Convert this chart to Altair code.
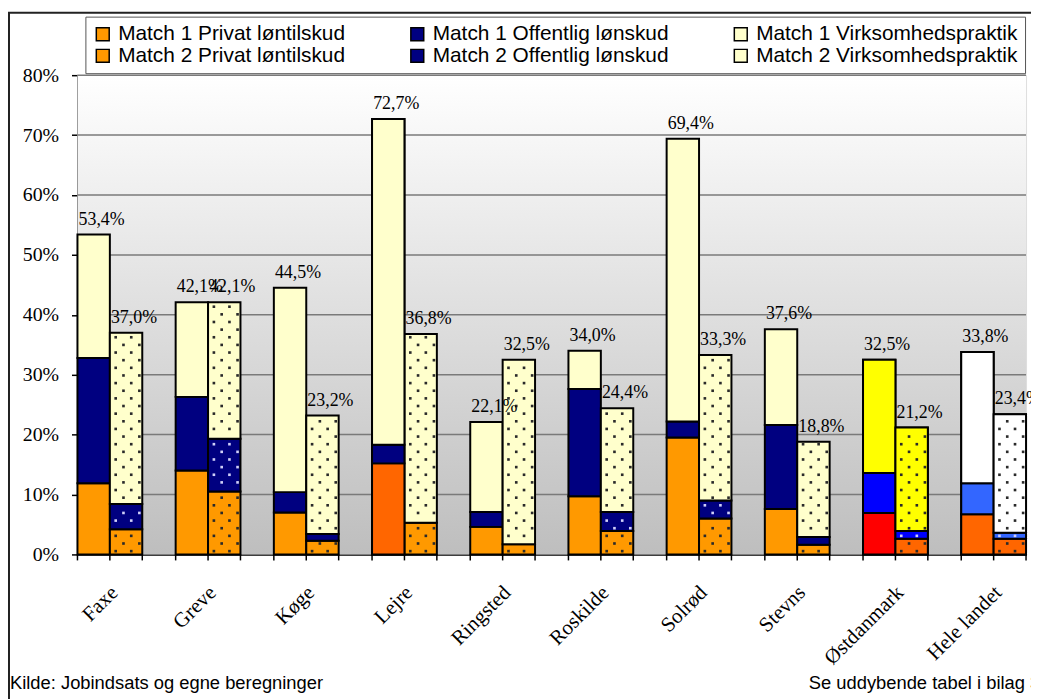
import altair as alt
import pandas as pd

categories = ["Faxe", "Greve", "Køge", "Lejre", "Ringsted", "Roskilde",
              "Solrød", "Stevns", "Østdanmark", "Hele landet"]
m1_total = [53.4, 42.1, 44.5, 72.7, 22.1, 34.0, 69.4, 37.6, 32.5, 33.8]
m1_priv = [11.9, 14.0, 7.0, 15.2, 4.6, 9.7, 19.5, 7.6, 6.9, 6.7]
m1_off = [20.9, 12.3, 3.4, 3.1, 2.5, 17.9, 2.7, 14.0, 6.7, 5.2]
m2_total = [37.0, 42.1, 23.2, 36.8, 32.5, 24.4, 33.3, 18.8, 21.2, 23.4]
m2_priv = [4.2, 10.5, 2.3, 5.3, 1.7, 3.9, 6.0, 1.6, 2.6, 2.6]
m2_off = [4.2, 8.8, 1.1, 0.0, 0.0, 3.2, 3.0, 1.3, 1.3, 1.0]
y_ticks = [0, 10, 20, 30, 40, 50, 60, 70, 80]

segment_names = ["Privat løntilskud", "Offentlig lønskud", "Virksomhedspraktik"]
matches = ["Match 1", "Match 2"]
base_colors = ["#FF9900", "#000080", "#FFFFCC"]
# legend is filled column by column (2 rows), so interleave the matches
legend_domain = [f"{m} {s}" for s in segment_names for m in matches]
legend_range = [c for c in base_colors for _ in matches]
special_colors = {
    ("Lejre", "Match 1"): ["#FF6600", "#000080", "#FFFFCC"],
    ("Østdanmark", "Match 1"): ["#FF0000", "#0000FF", "#FFFF00"],
    ("Østdanmark", "Match 2"): ["#FF6600", "#0000FF", "#FFFF00"],
    ("Hele landet", "Match 1"): ["#FF6600", "#3366FF", "#FFFFFF"],
    ("Hele landet", "Match 2"): ["#FF6600", "#3366FF", "#FFFFFF"],
}
dark_fills = {"#000080", "#0000FF", "#3366FF"}


def fmt(v):
    return f"{v:.1f}%".replace(".", ",")


rows, labels, dots = [], [], []
for i, c in enumerate(categories):
    for m, tot, pr, of in [("Match 1", m1_total[i], m1_priv[i], m1_off[i]),
                           ("Match 2", m2_total[i], m2_priv[i], m2_off[i])]:
        vals = [pr, of, round(tot - pr - of, 1)]
        cols = special_colors.get((c, m), base_colors)
        y0 = 0.0
        for k, v in enumerate(vals):
            y1 = y0 + v
            if v > 0:
                rows.append(dict(cat=c, match=m, series=f"{m} {segment_names[k]}",
                                 y0=y0, y1=y1, fill=cols[k],
                                 special=(c, m) in special_colors))
                if m == "Match 2":
                    dc = "#D0D0F8" if cols[k] in dark_fills else "#2A2A2A"
                    for n in range(80):
                        yy = 0.55 + n * 1.275
                        if y0 + 0.4 < yy < y1 - 0.4:
                            for col in ((0, 2) if n % 2 == 0 else (1, 3)):
                                dots.append(dict(cat=c, col=col, y=yy, dc=dc))
            y0 = y1
        labels.append(dict(cat=c, match=m, total=tot, label=fmt(tot)))

bars_df = pd.DataFrame(rows)
labels_df = pd.DataFrame(labels)
dots_df = pd.DataFrame(dots)
cat_df = pd.DataFrame({"cat": categories})
grid_df = pd.DataFrame({"v": y_ticks[1:]})

W, H = 956, 483
serif = "Liberation Serif"
sans = "Liberation Sans"

xscale = alt.Scale(domain=categories, paddingInner=0.34, paddingOuter=0)
xaxis = alt.Axis(title=None, ticks=False, domainColor="black", domainWidth=1.5,
                 labelAngle=-45, labelAlign="right", labelBaseline="middle",
                 labelFont=serif, labelFontSize=21, labelColor="black",
                 labelPadding=35, labelOffset=5)
yscale = alt.Scale(domain=[0, 80], nice=False, zero=True)
yaxis = alt.Axis(title=None, values=y_ticks, labelExpr="datum.value + '%'",
                 grid=False, tickSize=6, tickColor="black", tickWidth=1.5,
                 domainColor="black", domainWidth=1.5, labelFont=serif,
                 labelFontSize=20, labelColor="black", labelPadding=13)
offscale = alt.Scale(domain=matches, paddingInner=0, paddingOuter=0)


def X(bp=None):
    if bp is None:
        return alt.X("cat:N", scale=xscale, axis=xaxis)
    return alt.X("cat:N", scale=xscale, axis=xaxis, bandPosition=bp)


background = alt.Chart(pd.DataFrame({"a": [0]})).mark_rect(
    color=alt.Gradient(gradient="linear", x1=0, y1=0, x2=0, y2=1,
                       stops=[alt.GradientStop(color="#FFFFFF", offset=0),
                              alt.GradientStop(color="#BEBEBE", offset=1)])
).encode(x=alt.value(0), x2=alt.value(W), y=alt.value(0), y2=alt.value(H))

grid = alt.Chart(grid_df).mark_rule(color="#7A7A7A", strokeWidth=1.5).encode(
    x=alt.value(0), x2=alt.value(W),
    y=alt.Y("v:Q", scale=yscale, axis=yaxis))

bars = alt.Chart(bars_df).mark_bar(stroke="black", strokeWidth=2).encode(
    x=X(),
    xOffset=alt.XOffset("match:N", scale=offscale),
    y=alt.Y("y0:Q", scale=yscale, axis=yaxis),
    y2="y1:Q",
    color=alt.Color("series:N",
                    scale=alt.Scale(domain=legend_domain, range=legend_range),
                    legend=alt.Legend(
                        title=None, orient="none", legendX=8, legendY=-59,
                        columns=3, columnPadding=62, rowPadding=0,
                        symbolType="square", symbolSize=169,
                        symbolStrokeColor="black", symbolStrokeWidth=1.5,
                        labelFont=sans, labelFontSize=21, labelColor="black",
                        labelOffset=5, labelLimit=400,
                        strokeColor="#555555", fillColor="white", padding=7)),
)

bars_special = alt.Chart(bars_df).transform_filter(
    alt.datum.special == True
).mark_bar(stroke="black", strokeWidth=2).encode(
    x=X(),
    xOffset=alt.XOffset("match:N", scale=offscale),
    y=alt.Y("y0:Q", scale=yscale, axis=yaxis),
    y2="y1:Q",
    fill=alt.Fill("fill:N", scale=None),
)

dot_positions = [0.59, 0.71, 0.83, 0.955]
dot_layers = []
for j, bp in enumerate(dot_positions):
    dot_layers.append(
        alt.Chart(dots_df).transform_filter(alt.datum.col == j)
        .mark_square(size=7, filled=True, opacity=1, strokeWidth=0)
        .encode(x=X(bp), y=alt.Y("y:Q", scale=yscale, axis=yaxis),
                fill=alt.Fill("dc:N", scale=None))
    )

tick_layers = []
for bp in (0, 0.5, 1):
    tick_layers.append(
        alt.Chart(cat_df).mark_rule(color="black", strokeWidth=1.5).encode(
            x=X(bp), y=alt.YDatum(0, scale=yscale, axis=yaxis),
            y2=alt.Y2Datum(-1))
    )

value_labels = alt.Chart(labels_df).mark_text(
    font=serif, fontSize=18, color="black", align="center",
    baseline="alphabetic", dx=8, dy=-10
).encode(
    x=X(),
    xOffset=alt.XOffset("match:N", scale=offscale),
    y=alt.Y("total:Q", scale=yscale, axis=yaxis),
    text="label:N",
)

frame = alt.Chart(pd.DataFrame({"a": [0]})).mark_rect(
    fillOpacity=0, stroke="#222222", strokeWidth=2
).encode(x=alt.value(-69), x2=alt.value(W + 300),
         y=alt.value(-63), y2=alt.value(H + 400))

footer_left = alt.Chart(pd.DataFrame({"t": ["Kilde: Jobindsats og egne beregninger"]})).mark_text(
    font=sans, fontSize=18.5, color="black", align="left", baseline="alphabetic"
).encode(x=alt.value(-68), y=alt.value(H + 136), text="t:N")

footer_right = alt.Chart(pd.DataFrame({"t": ["Se uddybende tabel i bilag 3"]})).mark_text(
    font=sans, fontSize=18.5, color="black", align="left", baseline="alphabetic"
).encode(x=alt.value(737), y=alt.value(H + 136), text="t:N")

chart = alt.layer(
    background, grid, bars, bars_special, *dot_layers, *tick_layers,
    value_labels, frame, footer_left, footer_right
).properties(
    width=W, height=H,
    padding={"left": 70, "top": 65, "right": 5, "bottom": 143},
    autosize=alt.AutoSizeParams(type="none"),
).configure_view(stroke="#808080", strokeWidth=1.5).configure(background="white")

chart.save("out.html", embed_options={"renderer": "svg", "actions": False})
